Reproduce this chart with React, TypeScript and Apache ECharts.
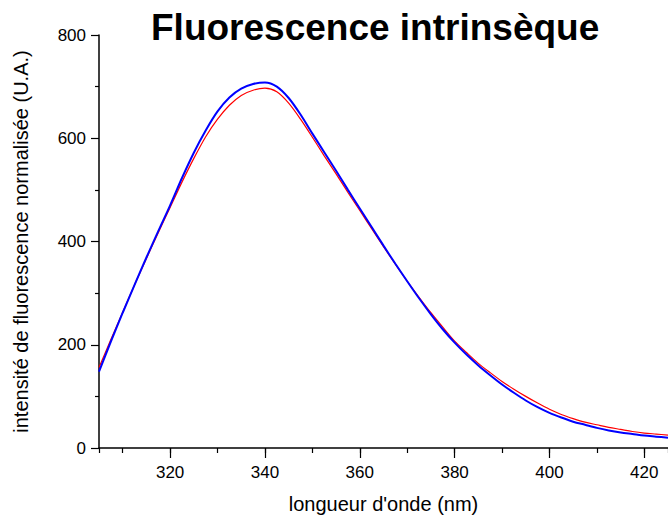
import React, { useEffect, useRef } from "react";
import * as echarts from "echarts";

const wavelengths = [
  305, 307.5, 310, 312.5, 315, 317.5, 320, 322.5, 325, 327.5, 330, 332.5, 335, 337.5, 340, 342.5, 345, 347.5,
  350, 352.5, 355, 357.5, 360, 362.5, 365, 367.5, 370, 372.5, 375, 377.5, 380, 382.5, 385, 387.5, 390, 392.5,
  395, 397.5, 400, 402.5, 405, 407.5, 410, 412.5, 415, 417.5, 420, 422.5, 425,
];
const blueValues = [
  148, 206, 262, 316, 369, 420, 470, 523, 572, 615, 652, 679, 696, 705, 708, 700, 678, 646,
  609, 573, 537, 500, 464, 428, 392, 357, 323, 290, 259, 230, 204, 181, 160, 141, 123, 107,
  92, 79, 68, 59, 51, 45, 39, 34, 30, 27, 24, 22, 20,
];
const redValues = [
  156, 210, 263, 316, 367, 417, 466, 515, 561, 603, 637, 664, 683, 693, 697, 690, 668, 637,
  602, 566, 531, 495, 460, 425, 390, 356, 323, 292, 262, 234, 207, 185, 164, 146, 129, 114,
  100, 87, 75, 65, 57, 50, 45, 40, 36, 32, 29, 27, 25,
];

const titleText = "Fluorescence intrinsèque";
const xName = "longueur d'onde (nm)";
const yName = "intensité de fluorescence normalisée (U.A.)";

const FONT = "'Liberation Sans', Arial, sans-serif";

export default function App() {
  const ref = useRef<HTMLDivElement>(null);
  useEffect(() => {
    if (!ref.current) return;
    const chart = echarts.init(ref.current, undefined, { renderer: "svg" });
    const blue = wavelengths.map((w, i) => [w, blueValues[i]]);
    const red = wavelengths.map((w, i) => [w, redValues[i]]);
    chart.setOption({
      animation: false,
      backgroundColor: "#ffffff",
      textStyle: { fontFamily: FONT },
      title: {
        text: titleText,
        left: 146,
        top: 4,
        textStyle: { fontFamily: FONT, fontSize: 37, fontWeight: "bold", color: "#000" },
      },
      grid: { left: 99, top: 35, right: 0, bottom: 64.5, containLabel: false },
      xAxis: [
        {
          type: "value",
          min: 305,
          max: 425,
          splitNumber: 6,
          name: xName,
          nameLocation: "middle",
          nameGap: 46,
          nameTextStyle: { fontFamily: FONT, fontSize: 20, color: "#000" },
          axisLine: { show: true, lineStyle: { color: "#000", width: 1.5 } },
          axisTick: { show: true, inside: false, length: 10, lineStyle: { color: "#000", width: 1.2 } },
          axisLabel: {
            fontFamily: FONT,
            fontSize: 17,
            color: "#000",
            margin: 16,
            showMinLabel: false,
            showMaxLabel: false,
          },
          splitLine: { show: false },
        },
        {
          type: "value",
          min: 305,
          max: 425,
          splitNumber: 12,
          position: "bottom",
          axisLine: { show: false },
          axisTick: { show: true, inside: false, length: 5, lineStyle: { color: "#000", width: 1.2 } },
          axisLabel: { show: false },
          splitLine: { show: false },
        },
      ],
      yAxis: {
        type: "value",
        min: 0,
        max: 800,
        interval: 200,
        name: yName,
        nameLocation: "middle",
        nameGap: 68,
        nameTextStyle: { fontFamily: FONT, fontSize: 20, color: "#000" },
        axisLine: { show: true, lineStyle: { color: "#000", width: 1.5 } },
        axisTick: { show: true, inside: false, length: 8, lineStyle: { color: "#000", width: 1.2 } },
        minorTick: { show: true, splitNumber: 2, length: 4, lineStyle: { color: "#000", width: 1.2 } },
        axisLabel: { fontFamily: FONT, fontSize: 17, color: "#000", margin: 13 },
        splitLine: { show: false },
        minorSplitLine: { show: false },
      },
      series: [
        {
          type: "line",
          data: red,
          xAxisIndex: 0,
          smooth: 0.3,
          showSymbol: false,
          lineStyle: { color: "#ff0000", width: 1.2 },
          clip: true,
        },
        {
          type: "line",
          data: blue,
          xAxisIndex: 0,
          smooth: 0.3,
          showSymbol: false,
          lineStyle: { color: "#0000ff", width: 2 },
          clip: true,
        },
      ],
    });
    return () => chart.dispose();
  }, []);
  return <div ref={ref} style={{ position: "absolute", left: 0, top: 0, width: 668, height: 519 }} />;
}
